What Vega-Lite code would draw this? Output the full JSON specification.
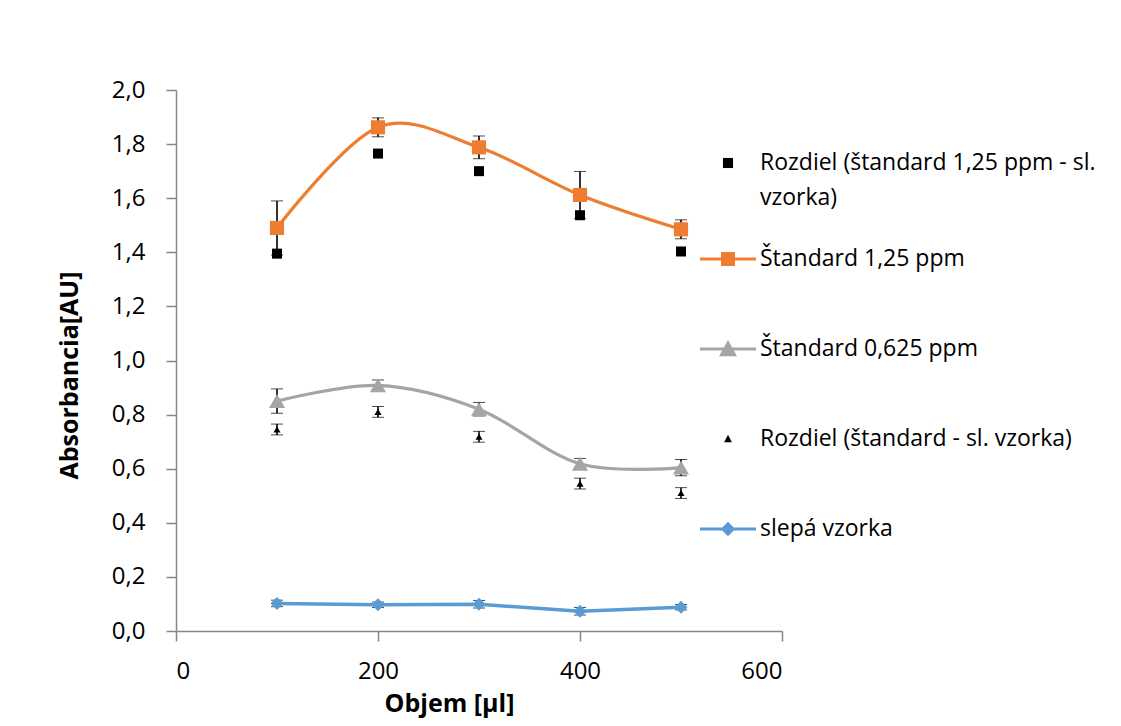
{
  "$schema": "https://vega.github.io/schema/vega-lite/v6.json",
  "width": 606,
  "height": 541,
  "autosize": "none",
  "padding": {"left": 176, "top": 90, "right": 339, "bottom": 95},
  "background": "white",
  "config": {
    "view": {"stroke": null},
    "font": "Open Sans",
    "axis": {
      "grid": false,
      "domainColor": "#868686",
      "domainWidth": 1.5,
      "tickColor": "#868686",
      "tickWidth": 1.5,
      "tickSize": 10,
      "labelFont": "Open Sans",
      "labelFontSize": 24,
      "labelColor": "black",
      "titleFont": "Open Sans",
      "titleFontSize": 25,
      "titleFontWeight": "bold",
      "titleColor": "black"
    },
    "legend": {
      "symbolOpacity": 1,
      "symbolStrokeWidth": 0,
      "symbolSize": 3136,
      "labelFont": "Open Sans",
      "labelFontSize": 23,
      "labelColor": "black",
      "labelOffset": 4,
      "labelLimit": 500,
      "rowPadding": 50
    }
  },
  "data": {
    "values": [
      {"series": "Rozdiel (štandard 1,25 ppm - sl. vzorka)", "x": 100, "y": 1.395},
      {"series": "Rozdiel (štandard 1,25 ppm - sl. vzorka)", "x": 200, "y": 1.765},
      {"series": "Rozdiel (štandard 1,25 ppm - sl. vzorka)", "x": 300, "y": 1.7},
      {"series": "Rozdiel (štandard 1,25 ppm - sl. vzorka)", "x": 400, "y": 1.537},
      {"series": "Rozdiel (štandard 1,25 ppm - sl. vzorka)", "x": 500, "y": 1.403},
      {"series": "Štandard 1,25 ppm", "x": 100, "y": 1.49, "err": 0.1},
      {"series": "Štandard 1,25 ppm", "x": 200, "y": 1.862, "err": 0.035},
      {"series": "Štandard 1,25 ppm", "x": 300, "y": 1.788, "err": 0.042},
      {"series": "Štandard 1,25 ppm", "x": 400, "y": 1.612, "err": 0.087},
      {"series": "Štandard 1,25 ppm", "x": 500, "y": 1.485, "err": 0.035},
      {"series": "Štandard 0,625 ppm", "x": 100, "y": 0.85, "err": 0.045},
      {"series": "Štandard 0,625 ppm", "x": 200, "y": 0.908, "err": 0.02},
      {"series": "Štandard 0,625 ppm", "x": 300, "y": 0.82, "err": 0.025},
      {"series": "Štandard 0,625 ppm", "x": 400, "y": 0.618, "err": 0.02},
      {"series": "Štandard 0,625 ppm", "x": 500, "y": 0.604, "err": 0.03},
      {"series": "Rozdiel (štandard - sl. vzorka)", "x": 100, "y": 0.745, "err": 0.02},
      {"series": "Rozdiel (štandard - sl. vzorka)", "x": 200, "y": 0.81, "err": 0.02},
      {"series": "Rozdiel (štandard - sl. vzorka)", "x": 300, "y": 0.718, "err": 0.02},
      {"series": "Rozdiel (štandard - sl. vzorka)", "x": 400, "y": 0.545, "err": 0.02},
      {"series": "Rozdiel (štandard - sl. vzorka)", "x": 500, "y": 0.51, "err": 0.02},
      {"series": "slepá vzorka", "x": 100, "y": 0.102, "err": 0.012},
      {"series": "slepá vzorka", "x": 200, "y": 0.097, "err": 0.01},
      {"series": "slepá vzorka", "x": 300, "y": 0.099, "err": 0.014},
      {"series": "slepá vzorka", "x": 400, "y": 0.073, "err": 0.014},
      {"series": "slepá vzorka", "x": 500, "y": 0.088, "err": 0.01}
    ]
  },
  "encoding": {
    "x": {
      "field": "x",
      "type": "quantitative",
      "scale": {"domain": [0, 600], "nice": false, "zero": false},
      "axis": {"values": [0, 200, 400, 600], "title": "Objem [µl]", "labelPadding": 18, "titlePadding": 8, "titleX": 273}
    },
    "y": {
      "field": "y",
      "type": "quantitative",
      "scale": {"domain": [0, 2], "nice": false},
      "axis": {
        "values": [0, 0.2, 0.4, 0.6, 0.8, 1.0, 1.2, 1.4, 1.6, 1.8, 2.0],
        "labelExpr": "replace(format(datum.value, '.1f'), '.', ',')",
        "title": "Absorbancia[AU]",
        "labelPadding": 21,
        "titlePadding": 29,
        "titleY": 285
      }
    }
  },
  "layer": [
    {
      "transform": [{"filter": "datum.err > 0"}],
      "mark": {
        "type": "errorbar",
        "ticks": {"size": 12, "color": "black", "strokeWidth": 1.6},
        "rule": {"color": "black", "strokeWidth": 1.6}
      },
      "encoding": {"yError": {"field": "err"}}
    },
    {
      "transform": [{"filter": "datum.series == 'Štandard 1,25 ppm'"}],
      "mark": {"type": "line", "color": "#ED7D31", "strokeWidth": 3.2, "interpolate": "cardinal"}
    },
    {
      "transform": [{"filter": "datum.series == 'Štandard 0,625 ppm'"}],
      "mark": {"type": "line", "color": "#A5A5A5", "strokeWidth": 3.2, "interpolate": "cardinal"}
    },
    {
      "transform": [{"filter": "datum.series == 'slepá vzorka'"}],
      "mark": {"type": "line", "color": "#5B9BD5", "strokeWidth": 3.5}
    },
    {
      "transform": [{"filter": "datum.series == 'Rozdiel (štandard 1,25 ppm - sl. vzorka)'"}],
      "mark": {"type": "point", "shape": "square", "filled": true, "color": "black", "opacity": 1, "size": 100, "strokeWidth": 0}
    },
    {
      "transform": [{"filter": "datum.series == 'Rozdiel (štandard - sl. vzorka)'"}],
      "mark": {"type": "point", "shape": "triangle-up", "filled": true, "color": "black", "opacity": 1, "size": 50, "strokeWidth": 0}
    },
    {
      "transform": [{"filter": "datum.series == 'Štandard 1,25 ppm'"}],
      "mark": {"type": "point", "shape": "square", "filled": true, "color": "#ED7D31", "opacity": 1, "size": 200, "strokeWidth": 0}
    },
    {
      "transform": [{"filter": "datum.series == 'Štandard 0,625 ppm'"}],
      "mark": {"type": "point", "shape": "triangle-up", "filled": true, "color": "#A5A5A5", "opacity": 1, "size": 260, "strokeWidth": 0}
    },
    {
      "transform": [{"filter": "datum.series == 'slepá vzorka'"}],
      "mark": {"type": "point", "shape": "diamond", "filled": true, "color": "#5B9BD5", "opacity": 1, "size": 170, "strokeWidth": 0}
    },
    {
      "transform": [{"filter": "datum.series == 'Rozdiel (štandard 1,25 ppm - sl. vzorka)'"}],
      "mark": {"type": "point", "filled": true, "opacity": 0, "strokeWidth": 0},
      "encoding": {
        "color": {
          "field": "series",
          "type": "nominal",
          "scale": {"range": ["black"]},
          "legend": {
            "title": null,
            "orient": "none",
            "legendX": 524,
            "legendY": 45,
            "symbolType": "M-0.18,-0.18H0.18V0.18H-0.18Z",
            "labelExpr": "['Rozdiel (štandard 1,25 ppm - sl.', 'vzorka)']",
            "encode": {"labels": {"update": {"lineHeight": {"value": 35}}}}
          }
        }
      }
    },
    {
      "transform": [{"filter": "datum.series != 'Rozdiel (štandard 1,25 ppm - sl. vzorka)'"}],
      "mark": {"type": "point", "filled": true, "opacity": 0, "strokeWidth": 0},
      "encoding": {
        "fill": {
          "field": "series",
          "type": "nominal",
          "scale": {
            "domain": ["Štandard 1,25 ppm", "Štandard 0,625 ppm", "Rozdiel (štandard - sl. vzorka)", "slepá vzorka"],
            "range": ["#ED7D31", "#A5A5A5", "black", "#5B9BD5"]
          },
          "legend": {
            "title": null,
            "orient": "none",
            "legendX": 524,
            "legendY": 141
          }
        },
        "shape": {
          "field": "series",
          "type": "nominal",
          "scale": {
            "domain": ["Štandard 1,25 ppm", "Štandard 0,625 ppm", "Rozdiel (štandard - sl. vzorka)", "slepá vzorka"],
            "range": [
              "M-1,-0.055H1V0.055H-1Z M-0.25,-0.25H0.25V0.25H-0.25Z",
              "M-1,-0.055H1V0.055H-1Z M0,-0.32L0.32,0.26H-0.32Z",
              "M0,-0.15L0.14,0.12H-0.14Z",
              "M-1,-0.055H1V0.055H-1Z M0,-0.26L0.26,0L0,0.26L-0.26,0Z"
            ]
          },
          "legend": {
            "title": null,
            "orient": "none",
            "legendX": 524,
            "legendY": 141
          }
        }
      }
    }
  ]
}
